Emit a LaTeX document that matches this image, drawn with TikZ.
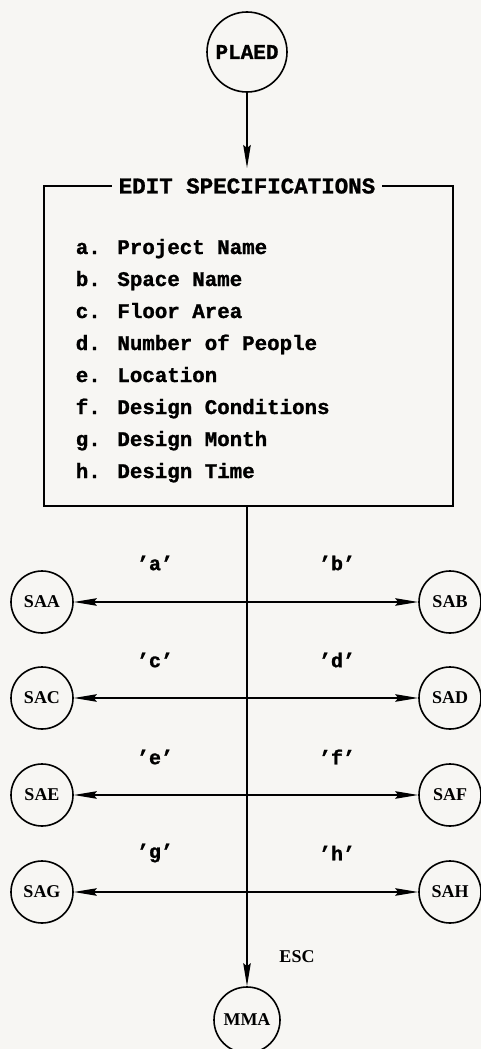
\documentclass[tikz,border=0pt]{standalone}
\usepackage{fontspec}
\setmainfont{Liberation Serif}
\newfontfamily\monofam[BoldFeatures={FakeBold=1.2}]{Liberation Mono}
\usetikzlibrary{arrows.meta}
\definecolor{paper}{RGB}{247,246,243}

\begin{document}
\begin{tikzpicture}[x=1pt,y=-1pt,
  line width=1.6pt,
  tip/.style={-{Stealth[length=23pt,width=7.5pt,inset=3pt]}},
  state/.style={circle,draw,minimum size=62pt,inner sep=0pt,
    font=\bfseries\fontsize{18}{18}\selectfont},
  bigstate/.style={state,minimum size=80pt,font=\monofam\bfseries\fontsize{21}{21}\selectfont},
  item/.style={anchor=base west,inner sep=0pt,font=\monofam\bfseries\fontsize{20.8}{20.8}\selectfont},
  key/.style={inner sep=0pt,font=\monofam\bfseries\fontsize{20}{20}\selectfont},
  esc/.style={inner sep=0pt,font=\bfseries\fontsize{18}{18}\selectfont}]

% page
\fill[paper] (0,0) rectangle (481,1049);
\useasboundingbox (0,0) rectangle (481,1049);

% entry point
\node[bigstate] (plaed) at (247,52) {PLAED};

% specification box
\node[fill=paper,inner xsep=6pt,inner ysep=3pt,
  font=\monofam\bfseries\fontsize{22.5}{22.5}\selectfont] (title) at (247,186) {EDIT SPECIFICATIONS};
\coordinate (tl) at (44,186);
\coordinate (tr) at (453,186);
\coordinate (bl) at (44,506);
\coordinate (br) at (453,506);
\coordinate (bm) at (247,506);
\draw (title.west) -- (tl) -- (bl) -- (br) -- (tr) -- (title.east);
\draw[tip] (plaed.south) -- (247,168);

\node[item] (ia) at (75,254) {a. Project Name};
\node[item] (ib) at (75,286) {b. Space Name};
\node[item] (ic) at (75,318) {c. Floor Area};
\node[item] (id) at (75,350) {d. Number of People};
\node[item] (ie) at (75,382) {e. Location};
\node[item] (if) at (75,414) {f. Design Conditions};
\node[item] (ig) at (75,446) {g. Design Month};
\node[item] (ih) at (75,478) {h. Design Time};

% sub-actions
\node[state] (saa) at (42,602) {SAA};
\node[state] (sab) at (450,602) {SAB};
\node[state] (sac) at (42,698) {SAC};
\node[state] (sad) at (450,698) {SAD};
\node[state] (sae) at (42,795) {SAE};
\node[state] (saf) at (450,795) {SAF};
\node[state] (sag) at (42,892) {SAG};
\node[state] (sah) at (450,892) {SAH};
\node[state,minimum size=66pt] (mma) at (247,1020) {MMA};

\coordinate (j1) at (247,602);
\coordinate (j2) at (247,698);
\coordinate (j3) at (247,795);
\coordinate (j4) at (247,892);

\draw[tip] (bm) -- (mma.north);
\foreach \j/\l/\r in {j1/saa/sab,j2/sac/sad,j3/sae/saf,j4/sag/sah}{
  \draw[tip] (\j) -- (\l.east);
  \draw[tip] (\j) -- (\r.west);
}

% key labels
\node[key] (ka) at (155,563) {’a’};
\node[key] (kb) at (337,563) {’b’};
\node[key] (kc) at (155,660) {’c’};
\node[key] (kd) at (337,660) {’d’};
\node[key] (ke) at (155,757) {’e’};
\node[key] (kf) at (337,757) {’f’};
\node[key] (kg) at (155,853) {’g’};
\node[key] (kh) at (337,853) {’h’};
\node[esc] (kesc) at (297,957) {ESC};
\end{tikzpicture}
\end{document}
